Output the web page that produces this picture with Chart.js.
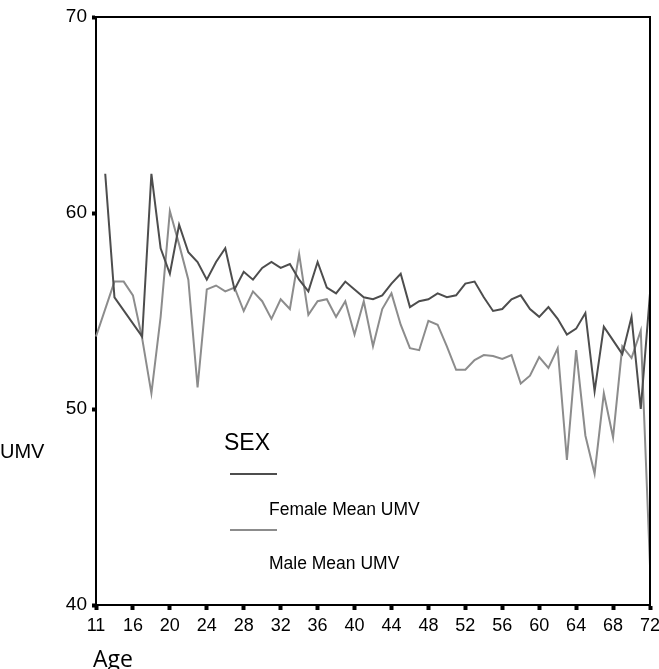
<!DOCTYPE html>
<html>
<head>
<meta charset="utf-8">
<script src="https://cdn.jsdelivr.net/npm/chart.js@4"></script>
<style>
  html, body { margin: 0; padding: 0; background: #fff; }
  canvas { display: block; }
</style>
</head>
<body>
<canvas id="chart" width="659" height="669"></canvas>
<script>
// categorias de idade (12 nao aparece nos dados)
const ages = ['11','13','14','15','16','17','18','19','20','21','22','23','24','25','26','27','28','29','30',
  '31','32','33','34','35','36','37','38','39','40','41','42','43','44','45','46','47','48','49','50',
  '51','52','53','54','55','56','57','58','59','60','61','62','63','64','65','66','67','68','69','70',
  '71','72'];

// medias de UMV por idade
const femaleUMV = [null, 62.0, 55.7, null, null, 53.7, 62.0, 58.2, 56.9, 59.4, 58.0, 57.5, 56.6, 57.5, 58.2, 56.1,
  57.0, 56.6, 57.2, 57.5, 57.2, 57.4, 56.6, 56.0, 57.5, 56.2, 55.9, 56.5, 56.1, 55.7, 55.6, 55.8,
  56.4, 56.9, 55.2, 55.5, 55.6, 55.9, 55.7, 55.8, 56.4, 56.5, 55.7, 55.0, 55.1, 55.6, 55.8, 55.1,
  54.7, 55.2, 54.6, 53.8, 54.1, 54.9, 50.9, 54.2, 53.5, 52.8, 54.7, 50.0, 55.9];
const maleUMV = [53.7, null, 56.5, 56.5, 55.8, 53.6, 50.8, 54.7, 60.1, 58.4, 56.6, 51.1, 56.1, 56.3, 56.0, 56.2,
  55.0, 56.0, 55.5, 54.6, 55.6, 55.1, 57.9, 54.8, 55.5, 55.6, 54.7, 55.5, 53.8, 55.5, 53.2, 55.1,
  55.9, 54.3, 53.1, 53.0, 54.5, 54.3, 53.2, 52.0, 52.0, 52.5, 52.75, 52.7, 52.55, 52.75, 51.3, 51.7,
  52.65, 52.1, 53.1, 47.4, 53.0, 48.65, 46.7, 50.8, 48.55, 53.2, 52.6, 54.0, 42.0];

const yTicks = [40, 50, 60, 70];

const femaleColor = '#4d4d4d';
const maleColor = '#8c8c8c';
const fontFamily = '"Liberation Sans", Arial, sans-serif';

// moldura, titulos e legenda
const extras = {
  id: 'extras',
  afterDraw(chart) {
    const c = chart.ctx;
    const a = chart.chartArea;
    c.save();
    c.strokeStyle = '#000';
    c.lineWidth = 2;
    c.beginPath();
    c.moveTo(a.left, a.top);
    c.lineTo(a.right, a.top);
    c.lineTo(a.right, a.bottom);
    c.stroke();

    c.fillStyle = '#000';
    c.textBaseline = 'middle';
    c.font = '20px ' + fontFamily;
    c.fillText('UMV', 0, 452);
    c.font = '23px "Open Sans", sans-serif';
    c.fillText('Age', 93, 660);

    // legenda
    c.font = '23px ' + fontFamily;
    c.fillText('SEX', 224, 444);
    c.lineWidth = 2;
    c.strokeStyle = femaleColor;
    c.beginPath(); c.moveTo(230, 474); c.lineTo(277, 474); c.stroke();
    c.strokeStyle = maleColor;
    c.beginPath(); c.moveTo(230, 530); c.lineTo(277, 530); c.stroke();
    c.font = '17.5px ' + fontFamily;
    c.fillText('Female Mean UMV', 269, 510);
    c.fillText('Male Mean UMV', 269, 564);
    c.restore();
  }
};

const ctx = document.getElementById('chart').getContext('2d');
new Chart(ctx, {
  type: 'line',
  data: {
    labels: ages,
    datasets: [
      { label: 'Female Mean UMV', data: femaleUMV, borderColor: femaleColor, borderWidth: 2 },
      { label: 'Male Mean UMV', data: maleUMV, borderColor: maleColor, borderWidth: 2 }
    ]
  },
  options: {
    responsive: false,
    animation: false,
    spanGaps: true,
    layout: { padding: { top: 17, right: 9, left: 0, bottom: 0 } },
    elements: { point: { radius: 0 }, line: { tension: 0 } },
    plugins: { legend: { display: false }, tooltip: { enabled: false } },
    scales: {
      x: {
        type: 'category',
        offset: false,
        border: { color: '#000', width: 2 },
        grid: { drawOnChartArea: false, tickLength: 5, tickWidth: 4, tickColor: '#000' },
        ticks: { autoSkip: false, maxRotation: 0, color: '#000', padding: 5, font: { size: 18, family: fontFamily } },
        afterBuildTicks(scale) {
          scale.ticks = scale.ticks.filter(t => t.value % 4 === 0);
        },
        afterFit(scale) {
          scale.height = 64;
          scale.paddingLeft = 0;
          scale.paddingRight = 0;
        }
      },
      y: {
        min: 40,
        max: 70,
        border: { color: '#000', width: 2 },
        grid: { drawOnChartArea: false, tickLength: 4, tickWidth: 4, tickColor: '#000' },
        ticks: { color: '#000', padding: 5, font: { size: 19, family: fontFamily } },
        afterBuildTicks(scale) {
          scale.ticks = yTicks.map(v => ({ value: v }));
        },
        afterFit(scale) {
          scale.width = 96;
          scale.paddingTop = 0;
          scale.paddingBottom = 0;
        }
      }
    }
  },
  plugins: [extras]
});
</script>
</body>
</html>
